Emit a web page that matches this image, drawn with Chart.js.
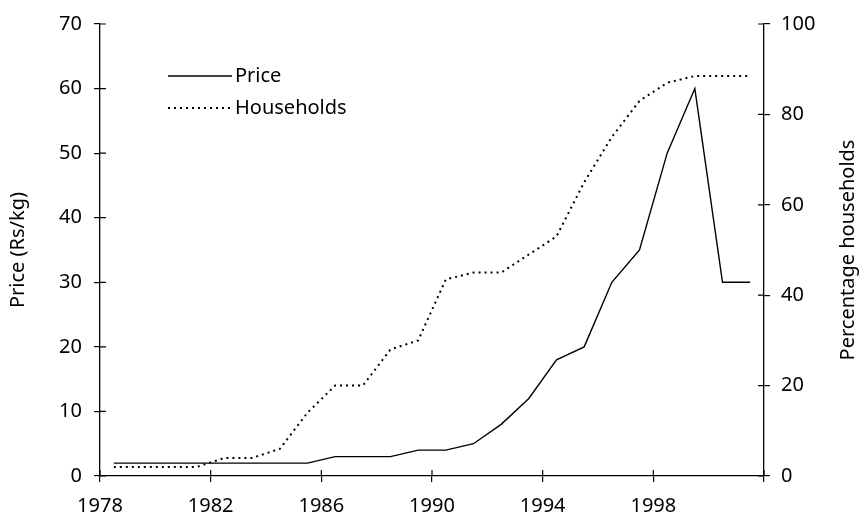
<!DOCTYPE html>
<html lang="en">
<head>
    <title>Price and households</title>
    <meta charset="UTF-8">
    <script src="https://cdn.jsdelivr.net/npm/chart.js"></script>
    <style>
        html, body {
            margin: 0;
            padding: 0;
            background: #fff;
        }

        .wrap {
            width: 862px;
            height: 518px;
        }
    </style>
</head>
<body>
<div class="wrap">
    <canvas id="priceChart"></canvas>
</div>
<script>
    // data
    const years = [1978, 1979, 1980, 1981, 1982, 1983, 1984, 1985, 1986, 1987, 1988, 1989,
        1990, 1991, 1992, 1993, 1994, 1995, 1996, 1997, 1998, 1999, 2000, 2001];
    const price = [2, 2, 2, 2, 2, 2, 2, 2, 3, 3, 3, 4,
        4, 5, 8, 12, 18, 20, 30, 35, 50, 60, 30, 30];
    const households = [2, 2, 2, 2, 4, 4, 6, 14, 20, 20, 28, 30,
        43.5, 45, 45, 49, 53, 65, 75, 83, 87, 88.5, 88.5, 88.5];
    const seriesNames = ['Price', 'Households'];
    const yearTicks = [1978, 1982, 1986, 1990, 1994, 1998];
    const rightTitle = 'Percentage households';

    const FONT = '"Noto Sans", sans-serif';
    const FONT_SIZE = 20;

    // each year sits in the middle of its slot, like a category axis
    function points(values) {
        return years.map((yr, i) => ({x: yr + 0.5, y: values[i]}));
    }

    // short tick marks on the inside of the axes (the outside ones come from Chart.js)
    const innerTicks = {
        id: 'innerTicks',
        afterDraw(chart) {
            const ctx = chart.ctx;
            const area = chart.chartArea;
            ctx.save();
            ctx.strokeStyle = '#000';
            ctx.lineWidth = 1.2;
            ctx.beginPath();
            chart.scales.x.ticks.forEach(t => {
                const px = chart.scales.x.getPixelForValue(t.value);
                ctx.moveTo(px, area.bottom);
                ctx.lineTo(px, area.bottom - 6);
            });
            chart.scales.y.ticks.forEach(t => {
                const py = chart.scales.y.getPixelForValue(t.value);
                ctx.moveTo(area.left, py);
                ctx.lineTo(area.left + 6, py);
            });
            chart.scales.y1.ticks.forEach(t => {
                const py = chart.scales.y1.getPixelForValue(t.value);
                ctx.moveTo(area.right, py);
                ctx.lineTo(area.right - 6, py);
            });
            ctx.stroke();
            ctx.restore();
        }
    };

    // legend in the upper left of the plot + right axis title read bottom to top
    const extras = {
        id: 'extras',
        afterDraw(chart) {
            const ctx = chart.ctx;
            const area = chart.chartArea;
            const x0 = area.left + 68;
            const y0 = area.top + 52;
            ctx.save();
            ctx.font = FONT_SIZE + 'px ' + FONT;
            ctx.fillStyle = '#000';
            ctx.textBaseline = 'middle';
            chart.data.datasets.forEach((ds, i) => {
                const y = y0 + i * 32;
                ctx.strokeStyle = ds.borderColor;
                ctx.lineWidth = ds.borderWidth;
                ctx.setLineDash(ds.borderDash || []);
                ctx.beginPath();
                ctx.moveTo(x0, y);
                ctx.lineTo(x0 + 64, y);
                ctx.stroke();
                ctx.setLineDash([]);
                ctx.fillText(ds.label, x0 + 67, y);
            });

            ctx.translate(chart.width - 14, (area.top + area.bottom) / 2);
            ctx.rotate(-Math.PI / 2);
            ctx.textAlign = 'center';
            ctx.fillText(rightTitle, 0, 0);
            ctx.restore();
        }
    };

    const axisLine = {color: '#000', width: 1.3};
    const tickFont = {family: FONT, size: FONT_SIZE};
    const axisGrid = {drawOnChartArea: false, color: '#000', tickLength: 6, lineWidth: 1.2};

    new Chart(document.getElementById('priceChart'), {
        type: 'line',
        data: {
            datasets: [{
                label: seriesNames[0],
                data: points(price),
                yAxisID: 'y',
                borderColor: '#000',
                borderWidth: 1.4,
                pointRadius: 0,
                tension: 0
            }, {
                label: seriesNames[1],
                data: points(households),
                yAxisID: 'y1',
                borderColor: '#000',
                borderWidth: 2,
                borderDash: [2, 4],
                pointRadius: 0,
                tension: 0
            }]
        },
        plugins: [innerTicks, extras],
        options: {
            responsive: true,
            maintainAspectRatio: false,
            animation: false,
            layout: {padding: {top: 23, left: 0, right: 0, bottom: 0}},
            plugins: {
                legend: {display: false},
                tooltip: {enabled: false}
            },
            scales: {
                x: {
                    type: 'linear',
                    min: 1978,
                    max: 2002,
                    afterBuildTicks: scale => {
                        scale.ticks = yearTicks.concat([2002]).map(v => ({value: v}));
                    },
                    afterFit: scale => { scale.height = 42; },
                    ticks: {
                        color: '#000',
                        font: tickFont,
                        padding: 12,
                        maxRotation: 0,
                        autoSkip: false,
                        callback: v => yearTicks.includes(v) ? String(v) : ''
                    },
                    grid: axisGrid,
                    border: axisLine
                },
                y: {
                    position: 'left',
                    min: 0,
                    max: 70,
                    afterFit: scale => { scale.width = 100; },
                    ticks: {stepSize: 10, color: '#000', font: tickFont, padding: 12},
                    grid: axisGrid,
                    border: axisLine,
                    title: {
                        display: true,
                        text: 'Price (Rs/kg)',
                        color: '#000',
                        font: {family: FONT, size: FONT_SIZE},
                        padding: {top: 6, bottom: 0}
                    }
                },
                y1: {
                    position: 'right',
                    min: 0,
                    max: 100,
                    afterFit: scale => { scale.width = 98; },
                    ticks: {stepSize: 20, color: '#000', font: tickFont, padding: 11},
                    grid: axisGrid,
                    border: axisLine
                }
            }
        }
    });
</script>
</body>
</html>
